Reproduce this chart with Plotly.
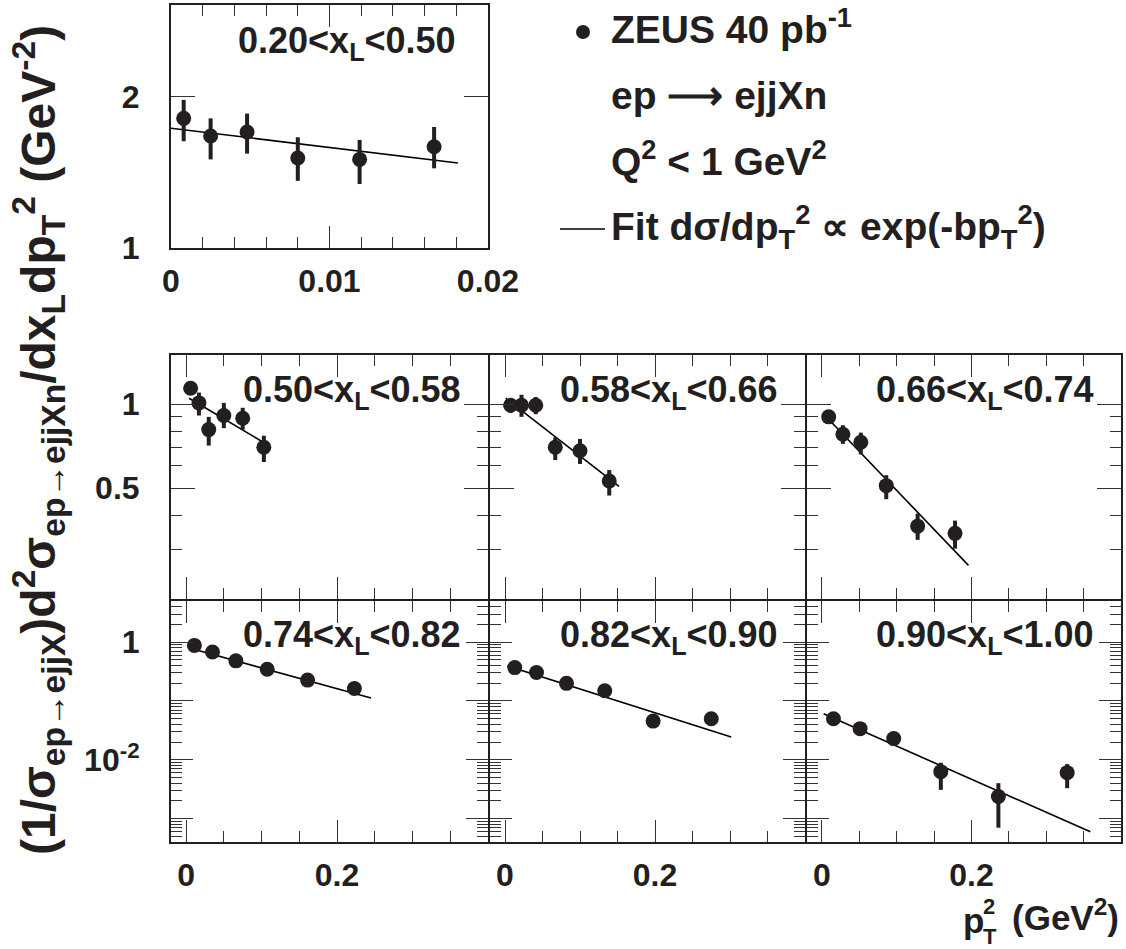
import plotly.graph_objects as go
import math

# ---------------- data ----------------
# 0.20 < xL < 0.50  (top panel)
x_a = [0.0008, 0.0025, 0.0048, 0.0080, 0.0119, 0.0166]
y_a = [1.81, 1.67, 1.70, 1.51, 1.50, 1.59]
hi_a = [1.97, 1.81, 1.85, 1.66, 1.64, 1.74]
lo_a = [1.63, 1.50, 1.54, 1.36, 1.34, 1.44]
fitx_a = [0.0, 0.0181]
fity_a = [1.73, 1.475]

# 0.50 < xL < 0.58
x_b = [0.006, 0.017, 0.030, 0.050, 0.075, 0.103]
y_b = [1.14, 1.01, 0.81, 0.91, 0.89, 0.70]
hi_b = [1.20, 1.10, 0.90, 1.01, 0.97, 0.77]
lo_b = [1.08, 0.91, 0.71, 0.82, 0.81, 0.62]
fitx_b = [0.004, 0.106]
fity_b = [1.05, 0.72]

# 0.58 < xL < 0.66
x_c = [0.0075, 0.022, 0.041, 0.067, 0.100, 0.139]
y_c = [0.99, 0.99, 0.99, 0.70, 0.68, 0.53]
hi_c = [1.04, 1.08, 1.06, 0.76, 0.75, 0.58]
lo_c = [0.93, 0.90, 0.92, 0.63, 0.61, 0.47]
fitx_c = [0.001, 0.152]
fity_c = [1.05, 0.507]

# 0.66 < xL < 0.74
x_d = [0.009, 0.028, 0.052, 0.086, 0.128, 0.178]
y_d = [0.90, 0.78, 0.73, 0.51, 0.365, 0.344]
hi_d = [0.95, 0.84, 0.79, 0.556, 0.405, 0.382]
lo_d = [0.86, 0.72, 0.66, 0.456, 0.326, 0.303]
fitx_d = [0.0066, 0.196]
fity_d = [0.895, 0.264]

# 0.74 < xL < 0.82
x_e = [0.011, 0.035, 0.066, 0.1075, 0.161, 0.223]
y_e = [0.88, 0.68, 0.48, 0.346, 0.226, 0.163]
hi_e = [0.93, 0.72, 0.51, 0.366, 0.239, 0.173]
lo_e = [0.83, 0.64, 0.45, 0.326, 0.213, 0.153]
fitx_e = [0.003, 0.245]
fity_e = [0.80, 0.112]

# 0.82 < xL < 0.90
x_f = [0.013, 0.042, 0.082, 0.133, 0.1975, 0.275]
y_f = [0.369, 0.304, 0.199, 0.149, 0.0454, 0.0497]
hi_f = [0.39, 0.322, 0.211, 0.159, 0.0490, 0.0537]
lo_f = [0.348, 0.286, 0.187, 0.139, 0.0418, 0.0457]
fitx_f = [0.003, 0.3016]
fity_f = [0.394, 0.0244]

# 0.90 < xL < 1.00
x_g = [0.0154, 0.051, 0.096, 0.159, 0.236, 0.328]
y_g = [0.0497, 0.0338, 0.0229, 0.00628, 0.00238, 0.00604]
hi_g = [0.053, 0.036, 0.0255, 0.0089, 0.0040, 0.00845]
lo_g = [0.0465, 0.0315, 0.0205, 0.00308, 0.0007, 0.00329]
fitx_g = [0.0022, 0.359]
fity_g = [0.0604, 0.000596]

labels = ["0.20<x<sub>L</sub><0.50", "0.50<x<sub>L</sub><0.58", "0.58<x<sub>L</sub><0.66",
          "0.66<x<sub>L</sub><0.74", "0.74<x<sub>L</sub><0.82", "0.82<x<sub>L</sub><0.90",
          "0.90<x<sub>L</sub><1.00"]

# ---------------- layout helpers ----------------
W, H = 1126, 949
INK = "#231f20"
FONT = "Liberation Sans"


def fx(p):
    return p / W


def fy(p):
    return 1 - p / H


# panel boundaries in pixels (shared borders offset so the frame lines coincide)
cols = [(171, 488), (490, 805), (807, 1121)]
row_top = (5, 248)
row_mid = (355, 599)
row_bot = (601, 842)

panels = [
    (x_a, y_a, hi_a, lo_a, fitx_a, fity_a, 0, row_top, "top", "top"),
    (x_b, y_b, hi_b, lo_b, fitx_b, fity_b, 0, row_mid, "mid", "mid"),
    (x_c, y_c, hi_c, lo_c, fitx_c, fity_c, 1, row_mid, "mid", "mid"),
    (x_d, y_d, hi_d, lo_d, fitx_d, fity_d, 2, row_mid, "mid", "mid"),
    (x_e, y_e, hi_e, lo_e, fitx_e, fity_e, 0, row_bot, "bot", "bot"),
    (x_f, y_f, hi_f, lo_f, fitx_f, fity_f, 1, row_bot, "bot", "bot"),
    (x_g, y_g, hi_g, lo_g, fitx_g, fity_g, 2, row_bot, "bot", "bot"),
]

fig = go.Figure()
layout = dict(
    template="none",
    width=W, height=H, autosize=False, margin=dict(l=0, r=0, t=0, b=0, pad=0, autoexpand=False),
    plot_bgcolor="white", paper_bgcolor="white", showlegend=False,
)

tickfont = dict(family=FONT, size=32, color=INK, weight="bold")
minor_style = dict(ticks="inside", ticklen=11, tickwidth=1.3, tickcolor="#333", showgrid=False)

for i, (xs, ys, his, los, fxs, fys, c, row, xk, yk) in enumerate(panels):
    n = i + 1
    xa = "x" if n == 1 else f"x{n}"
    ya = "y" if n == 1 else f"y{n}"
    fig.add_trace(go.Scatter(
        x=fxs, y=fys, mode="lines", xaxis=xa, yaxis=ya,
        line=dict(color="black", width=1.6), hoverinfo="skip"))
    fig.add_trace(go.Scatter(
        x=xs, y=ys, mode="markers", xaxis=xa, yaxis=ya,
        marker=dict(size=15, color=INK),
        error_y=dict(type="data", symmetric=False,
                     array=[h - v for h, v in zip(his, ys)],
                     arrayminus=[v - l for v, l in zip(ys, los)],
                     thickness=4, width=0, color=INK)))

    show_xlab = (xk == "top") or (row == row_bot)
    show_ylab = (c == 0)

    common = dict(showgrid=False, zeroline=False, showline=True, linecolor=INK,
                  linewidth=2, ticks="inside", mirror="allticks", tickcolor="#333",
                  tickwidth=1.3, tickfont=tickfont, automargin=False)

    if xk == "top":
        xax = dict(range=[0, 0.02], tickmode="array", tickvals=[0, 0.01, 0.02],
                   ticktext=["0", "0.01", "0.02"], ticklen=22,
                   minor=dict(tickmode="array",
                              tickvals=[0.002, 0.004, 0.006, 0.008, 0.012, 0.014, 0.016, 0.018],
                              **minor_style))
    else:
        xax = dict(range=[-0.02, 0.4], tickmode="array", tickvals=[0, 0.2, 0.4],
                   ticktext=["0", "0.2", ""], ticklen=22,
                   minor=dict(tickmode="array",
                              tickvals=[0.05, 0.1, 0.15, 0.25, 0.3, 0.35],
                              **minor_style))
    if yk == "top":
        yax = dict(type="log", range=[0, 0.483], tickmode="array", tickvals=[1, 2],
                   ticktext=["1", "2"], ticklen=24)
    elif yk == "mid":
        yax = dict(type="log", range=[math.log10(0.2), math.log10(1.5)], tickmode="array",
                   tickvals=[0.5, 1], ticktext=["0.5", "1"], ticklen=24,
                   minor=dict(tickmode="array", tickvals=[0.3, 0.4, 0.6, 0.7, 0.8, 0.9],
                              **minor_style))
    else:
        minors = []
        for dec in [1e-4, 1e-3, 1e-2, 1e-1, 1]:
            for k in range(2, 10):
                minors.append(k * dec)
        yax = dict(type="log", range=[math.log10(4e-4), math.log10(5)], tickmode="array",
                   tickvals=[1e-3, 1e-2, 1e-1, 1], ticktext=["", "10<sup>-2</sup>", "", "1"],
                   ticklen=22,
                   minor=dict(tickmode="array", tickvals=minors, **minor_style))

    xax.update(common)
    yax.update(common)
    xax.update(domain=[fx(cols[c][0]), fx(cols[c][1])], anchor=ya,
               showticklabels=show_xlab, ticklabelstandoff=4)
    yax.update(domain=[fy(row[1]), fy(row[0])], anchor=xa,
               showticklabels=show_ylab, ticklabelstandoff=23)
    layout["xaxis" if n == 1 else f"xaxis{n}"] = xax
    layout["yaxis" if n == 1 else f"yaxis{n}"] = yax

fig.update_layout(**layout)

ann_font = dict(family=FONT, size=36, color=INK, weight="bold")

# panel labels (right aligned near top-right of each panel)
label_pos = [(458, 43), (463, 392), (780, 392), (1096, 392), (463, 637), (780, 637), (1096, 637)]
for txt, (px, py) in zip(labels, label_pos):
    fig.add_annotation(x=fx(px), y=fy(py), xref="paper", yref="paper", text=txt,
                       showarrow=False, xanchor="right", yanchor="middle", font=ann_font)

# legend block
leg_font = dict(family=FONT, size=39, color=INK, weight="bold")
legend_rows = [("ZEUS 40 pb<sup>-1</sup>", 27), ("ep \u27f6 ejjXn", 96),
               ("Q<sup>2</sup> < 1 GeV<sup>2</sup>", 159),
               ("Fit d\u03c3/dp<sub>T</sub><sup>2</sup> \u221d exp(-bp<sub>T</sub><sup>2</sup>)", 227)]
for txt, py in legend_rows:
    fig.add_annotation(x=fx(609), y=fy(py), xref="paper", yref="paper", text=txt,
                       showarrow=False, xanchor="left", yanchor="middle", font=leg_font)
fig.add_shape(type="circle", xref="paper", yref="paper",
              x0=fx(576), x1=fx(590), y0=fy(39), y1=fy(25),
              fillcolor=INK, line=dict(color=INK, width=0))
fig.add_shape(type="line", xref="paper", yref="paper",
              x0=fx(560), x1=fx(605), y0=fy(229), y1=fy(229),
              line=dict(color="black", width=1.5))

# y-axis title
fig.add_annotation(x=fx(38), y=fy(440), xref="paper", yref="paper",
                   text="(1/\u03c3<sub>ep\u2192ejjX</sub>)d<sup>2</sup>\u03c3<sub>ep\u2192ejjXn</sub>/dx<sub>L</sub>dp<sub>T</sub><sup>2</sup> (GeV<sup>-2</sup>)",
                   showarrow=False, textangle=-90, xanchor="center", yanchor="middle",
                   font=dict(family=FONT, size=48, color=INK, weight="bold"))

# x-axis title, with stacked sub/superscript like the original
xt_font = dict(family=FONT, size=35, color=INK, weight="bold")
small_font = dict(family=FONT, size=22, color=INK, weight="bold")
fig.add_annotation(x=fx(1121), y=fy(915), xref="paper", yref="paper",
                   text="(GeV<sup>2</sup>)", showarrow=False, xanchor="right",
                   yanchor="middle", font=xt_font)
fig.add_annotation(x=fx(986), y=fy(920), xref="paper", yref="paper",
                   text="p", showarrow=False, xanchor="right",
                   yanchor="middle", font=xt_font)
fig.add_annotation(x=fx(981), y=fy(906), xref="paper", yref="paper",
                   text="2", showarrow=False, xanchor="left", yanchor="middle",
                   font=small_font)
fig.add_annotation(x=fx(981), y=fy(936), xref="paper", yref="paper",
                   text="T", showarrow=False, xanchor="left", yanchor="middle",
                   font=small_font)

fig.write_html(
    "out.html",
    config={"displayModeBar": False},
    post_script="document.body.style.margin='0';"
                "document.documentElement.style.overflow='hidden';"
                "document.body.style.overflow='hidden';")
